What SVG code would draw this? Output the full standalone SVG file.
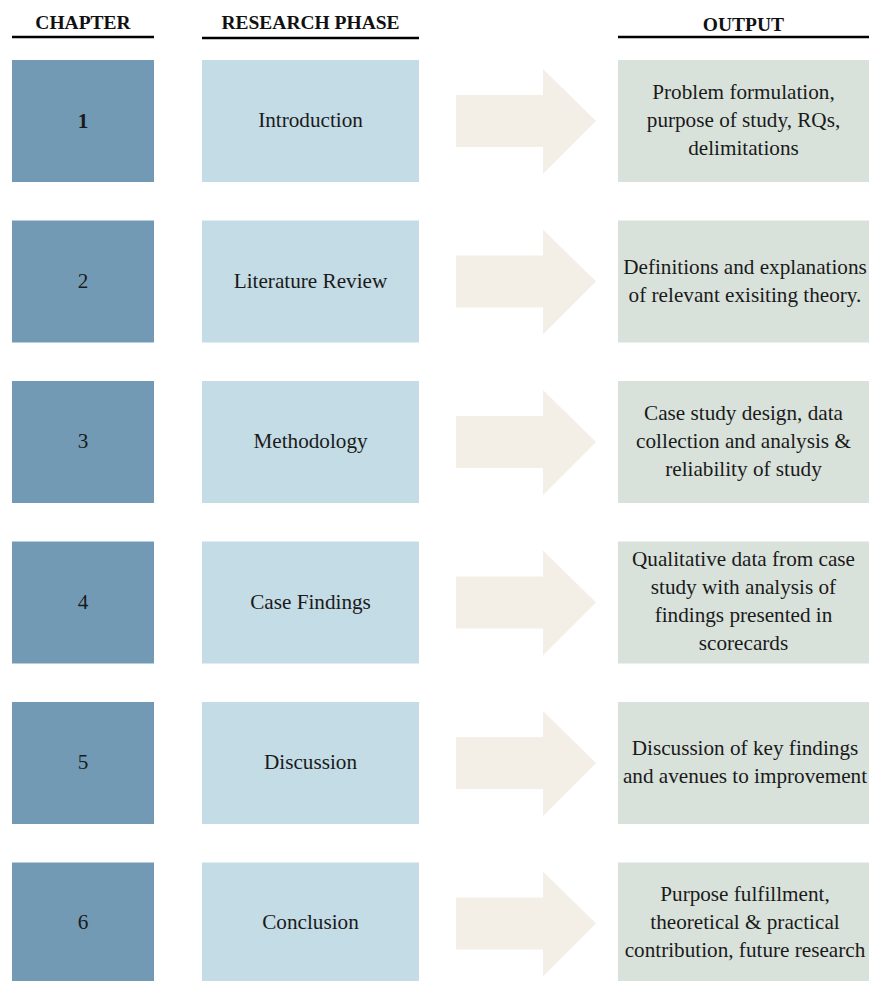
<svg xmlns="http://www.w3.org/2000/svg" xmlns:xlink="http://www.w3.org/1999/xlink" width="869" height="981" viewBox="0 0 869 981">
<style>
.hdr{font-family:"Liberation Serif","Times New Roman",serif;font-weight:bold;font-size:19.5px;fill:#111;text-anchor:middle}
.t{font-family:"Liberation Serif","Times New Roman",serif;font-size:21.2px;fill:#1a1a1a;text-anchor:middle}
.ch{fill:#739AB4}
.ph{fill:#C4DCE6}
.out{fill:#D8E2DB}
.arr{fill:#F3EFE6}
.rule{stroke:#000;stroke-width:2.5}
</style>
<defs>
<path id="arrow" d="M456,-26 H543 V-52 L596,0 L543,53 V26 H456 Z"/>
</defs>
<rect width="869" height="981" fill="#fff"/>
<g id="headers">
<text class="hdr" x="83" y="29">CHAPTER</text>
<text class="hdr" x="310.5" y="29">RESEARCH PHASE</text>
<text class="hdr" x="743.5" y="31">OUTPUT</text>
<line class="rule" x1="12" y1="37" x2="154" y2="37"/>
<line class="rule" x1="202" y1="38" x2="419" y2="38"/>
<line class="rule" x1="618" y1="37" x2="869" y2="37"/>
</g>
<g id="connectors">
<use xlink:href="#arrow" class="arr" y="121"/>
<use xlink:href="#arrow" class="arr" y="281.5"/>
<use xlink:href="#arrow" class="arr" y="442"/>
<use xlink:href="#arrow" class="arr" y="602.5"/>
<use xlink:href="#arrow" class="arr" y="763"/>
<use xlink:href="#arrow" class="arr" y="923.5"/>
</g>
<g id="row1">
<g id="chapter1"><rect class="ch" x="12" y="60" width="142" height="122"/><text class="t" x="83" y="128" font-weight="bold">1</text></g>
<g id="phase1"><rect class="ph" x="202" y="60" width="217" height="122"/><text class="t" x="310.5" y="127">Introduction</text></g>
<g id="output1"><rect class="out" x="618" y="60" width="251" height="122"/>
<text class="t" x="743.5" y="99">Problem formulation,</text>
<text class="t" x="743.5" y="127">purpose of study, RQs,</text>
<text class="t" x="743.5" y="155">delimitations</text></g>
</g>
<g id="row2">
<g id="chapter2"><rect class="ch" x="12" y="220.5" width="142" height="122"/><text class="t" x="83" y="288">2</text></g>
<g id="phase2"><rect class="ph" x="202" y="220.5" width="217" height="122"/><text class="t" x="310.5" y="288">Literature Review</text></g>
<g id="output2"><rect class="out" x="618" y="220.5" width="251" height="122"/>
<text class="t" x="745" y="274">Definitions and explanations</text>
<text class="t" x="745" y="302">of relevant exisiting theory.</text></g>
</g>
<g id="row3">
<g id="chapter3"><rect class="ch" x="12" y="381" width="142" height="122"/><text class="t" x="83" y="448">3</text></g>
<g id="phase3"><rect class="ph" x="202" y="381" width="217" height="122"/><text class="t" x="310.5" y="448">Methodology</text></g>
<g id="output3"><rect class="out" x="618" y="381" width="251" height="122"/>
<text class="t" x="743.5" y="420">Case study design, data</text>
<text class="t" x="743.5" y="448">collection and analysis &amp;</text>
<text class="t" x="743.5" y="476">reliability of study</text></g>
</g>
<g id="row4">
<g id="chapter4"><rect class="ch" x="12" y="541.5" width="142" height="122"/><text class="t" x="83" y="609">4</text></g>
<g id="phase4"><rect class="ph" x="202" y="541.5" width="217" height="122"/><text class="t" x="310.5" y="609">Case Findings</text></g>
<g id="output4"><rect class="out" x="618" y="541.5" width="251" height="122"/>
<text class="t" x="743.5" y="566">Qualitative data from case</text>
<text class="t" x="743.5" y="594">study with analysis of</text>
<text class="t" x="743.5" y="622">findings presented in</text>
<text class="t" x="743.5" y="650">scorecards</text></g>
</g>
<g id="row5">
<g id="chapter5"><rect class="ch" x="12" y="702" width="142" height="122"/><text class="t" x="83" y="769">5</text></g>
<g id="phase5"><rect class="ph" x="202" y="702" width="217" height="122"/><text class="t" x="310.5" y="769">Discussion</text></g>
<g id="output5"><rect class="out" x="618" y="702" width="251" height="122"/>
<text class="t" x="745" y="755">Discussion of key findings</text>
<text class="t" x="745" y="783">and avenues to improvement</text></g>
</g>
<g id="row6">
<g id="chapter6"><rect class="ch" x="12" y="862.5" width="142" height="122"/><text class="t" x="83" y="929">6</text></g>
<g id="phase6"><rect class="ph" x="202" y="862.5" width="217" height="122"/><text class="t" x="310.5" y="929">Conclusion</text></g>
<g id="output6"><rect class="out" x="618" y="862.5" width="251" height="122"/>
<text class="t" x="745" y="901">Purpose fulfillment,</text>
<text class="t" x="745" y="929">theoretical &amp; practical</text>
<text class="t" x="745" y="957">contribution, future research</text></g>
</g>
</svg>
